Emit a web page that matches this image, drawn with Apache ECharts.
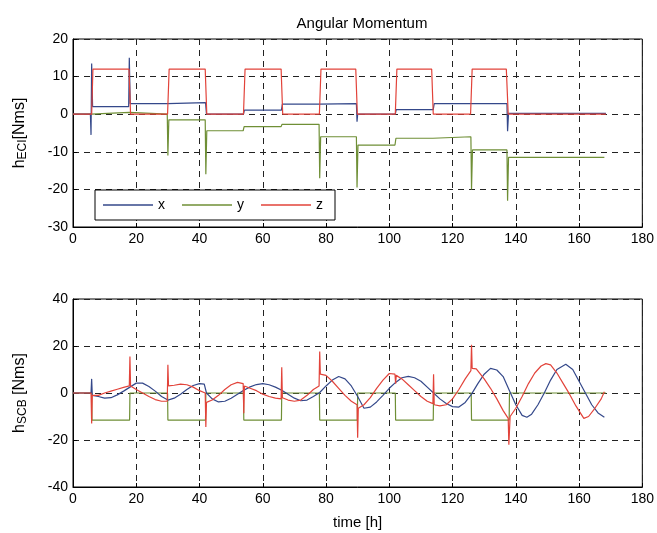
<!DOCTYPE html>
<html>
<head>
<meta charset="utf-8">
<script src="https://cdn.jsdelivr.net/npm/echarts@6/dist/echarts.min.js"></script>
<style>
  html, body { margin: 0; padding: 0; background: #fff; }
  #chart { width: 657px; height: 533px; }
</style>
</head>
<body>
<div id="chart"></div>
<script>
// time ticks
var xTicks = [0, 20, 40, 60, 80, 100, 120, 140, 160, 180];

// h_ECI, x component
var eciXT = [0, 5.5, 5.7, 5.9, 6.2, 17.6, 17.8, 18.1, 29.9, 30.2, 41.9, 42.2, 53.9, 54.2, 65.9, 66.2, 77.9, 78.2, 89.6, 89.8, 90.0, 101.9, 102.2, 113.9, 114.2, 137.2, 137.4, 137.7, 168.5];
var eciXV = [0, 0, -5.5, 13.5, 2, 2, 15, 2.8, 2.8, 3.1, 3.1, 0, 0, 1.1, 1.1, 2.7, 2.7, 2.8, 2.8, -2, 0, 0, 1.2, 1.2, 2.8, 2.8, -4.5, 0.2, 0.2];
// h_ECI, y component
var eciYT = [0, 5.8, 6.1, 17.8, 18.1, 29.8, 30.0, 30.3, 41.8, 42.0, 42.3, 53.8, 54.1, 65.8, 66.1, 77.8, 78.0, 78.3, 89.6, 89.8, 90.1, 101.8, 102.1, 113.8, 114.1, 125.8, 126.0, 126.3, 137.2, 137.4, 137.7, 168];
var eciYV = [0, 0, 0.5, 0.5, 0, 0, -11, -1.5, -1.5, -16, -4.4, -4.4, -3.3, -3.3, -2.7, -2.7, -17, -6, -6, -19.5, -8.2, -8.2, -6.4, -6.4, -6, -6, -20, -9.5, -9.5, -23, -11.5, -11.5];
// h_ECI, z component
var eciZT = [0, 5.9, 6.3, 17.7, 18.2, 29.9, 30.4, 41.8, 42.3, 53.9, 54.4, 65.8, 66.3, 77.9, 78.4, 89.4, 89.9, 101.9, 102.4, 113.4, 113.9, 125.7, 126.2, 137.0, 137.6, 168.5];
var eciZV = [0, 0, 12, 12, 0, 0, 12, 12, 0, 0, 12, 12, 0, 0, 12, 12, 0, 0, 12, 12, 0, 0, 12, 12, 0, 0];

// h_SCB, x component
var scbXT = [0, 5.7, 5.9, 6.1, 8, 10, 12, 14, 16, 18, 20, 22, 24, 26, 28, 30, 32, 34, 36, 38, 40, 41.5, 42.2, 44, 46, 48, 50, 52, 54, 56, 58, 60, 62, 64, 66, 68, 70, 72, 74, 76, 78, 80, 82, 84, 86, 88, 90, 92, 94, 96, 98, 100, 102, 104, 106, 108, 110, 112, 114, 116, 118, 120, 122, 124, 126, 128, 130, 132, 134, 136, 138, 140, 142, 143.5, 145, 147, 149, 151, 153, 155.8, 158, 160, 162, 164, 166, 168];
var scbXV = [0, 0, 6, -1, -1.5, -2.2, -2, -0.8, 0.8, 2.5, 4.2, 4.2, 2.8, 0.8, -1.5, -3, -2.2, -0.5, 1.5, 3.2, 4, 3.8, 0, -2.5, -3.8, -3.5, -2.2, -0.5, 1.2, 2.6, 3.6, 4, 3.5, 2.5, 1.2, -0.5, -2.2, -3.3, -3, -1.5, 0.2, 3, 5.5, 7, 6, 3, -1.5, -6.5, -6, -3.8, -1, 2, 4.5, 6.5, 7.1, 6.5, 5, 2.5, 0, -2.5, -4.5, -5.8, -6, -4, -0.5, 4, 8, 10.5, 9.8, 7, 1, -5, -9.5, -10.3, -9, -5, 0, 5.5, 10, 12.2, 10, 5, 0, -5, -8.5, -10.3];
// h_SCB, y component
var scbYT = [0, 5.9, 6.0, 17.9, 18.0, 29.9, 30.0, 41.9, 42.0, 53.9, 54.0, 65.9, 66.0, 77.9, 78.0, 89.9, 90.0, 101.9, 102.0, 113.9, 114.0, 125.9, 126.0, 137.9, 138.0, 168.5];
var scbYV = [0, 0, -11.5, -11.5, 0, 0, -11.5, -11.5, 0, 0, -11.5, -11.5, 0, 0, -11.5, -11.5, 0, 0, -11.5, -11.5, 0, 0, -11.5, -11.5, 0, 0];
// h_SCB, z component
var scbZT = [0, 5.7, 5.9, 6.1, 8, 10, 12, 14, 16, 17.8, 18, 18.2, 20, 22, 24, 26, 28, 29.8, 30, 30.2, 32, 34, 36, 38, 40, 41.8, 42, 42.2, 44, 46, 48, 50, 52, 53.8, 54, 54.2, 56, 58, 60, 62, 64, 65.8, 66, 66.2, 68, 70, 72, 74, 76, 77.8, 78, 78.2, 80, 82, 84, 86, 88, 89.8, 90, 90.2, 92, 94, 96, 98, 100, 101.8, 102, 102.2, 104, 106, 108, 110, 112, 113.8, 114, 114.2, 116, 118, 120, 122, 124, 125.8, 126, 126.2, 127.5, 130, 132, 134, 136, 137.6, 137.8, 138.2, 140, 142, 144, 146, 148, 149.5, 151, 153, 155, 157, 159, 161.5, 163, 165, 167, 168];
var scbZV = [0, 0, -13, -1, -1, 0, 0.8, 1.6, 2.4, 3, 15.5, 3, 1.5, 0, -1.5, -2.8, -3.5, -3.5, 12, 3, 3.3, 3.8, 3.5, 2.5, 1, 0, -14.5, -4, -3, -1, 1.5, 3.5, 4.5, 4, -8.6, 3, 2, 1, -0.5, -1.5, -2.2, -2.5, 11, -2, -3, -3.5, -3, -1, 1.5, 3, 17.7, 8, 7.5, 5, 2, -1, -3.5, -5, -19, -6.5, -5, -2, 2, 5.5, 8.3, 8, 4, 7.5, 6, 3.5, 1, -1.5, -3.5, -4.5, 8, -5, -5.5, -5, -2.5, 1.5, 6, 9.5, 20.5, 10.5, 10.3, 6, 2, -2.5, -7.5, -10.8, -22, -10, -6.5, -1.5, 4, 8.5, 11.5, 12.5, 12, 8.5, 4, -0.5, -5.5, -10.8, -10, -6.5, -2.5, 0.5];

var colX = '#34488a';
var colY = '#6f8f36';
var colZ = '#e2433a';
var font = 'Liberation Sans, Arial, sans-serif';

function pairs(t, v) {
  var out = [];
  for (var i = 0; i < t.length; i++) out.push([t[i], v[i]]);
  return out;
}

function line(name, t, v, color, idx) {
  return {
    name: name,
    type: 'line',
    xAxisIndex: idx,
    yAxisIndex: idx,
    data: pairs(t, v),
    symbol: 'none',
    lineStyle: { color: color, width: 1.2 },
    itemStyle: { color: color }
  };
}

var dash = { show: true, lineStyle: { color: '#222', type: [6, 5], width: 1 } };

function xAx(idx, withName) {
  var a = {
    type: 'value', gridIndex: idx, min: 0, max: 180, interval: 20,
    axisLine: { show: true, onZero: false, lineStyle: { color: '#000' } },
    axisTick: { inside: true, length: 4, lineStyle: { color: '#000' } },
    axisLabel: { color: '#000', fontSize: 14, fontFamily: font, margin: 5 },
    splitLine: dash
  };
  if (withName) {
    a.name = 'time [h]';
    a.nameLocation = 'middle';
    a.nameGap = 28;
    a.nameTextStyle = { color: '#000', fontSize: 15, fontFamily: font };
  }
  return a;
}

function yAx(idx, min, max, step, sub, tail) {
  return {
    type: 'value', gridIndex: idx, min: min, max: max, interval: step,
    name: '{m|h}{s|' + sub + '}{m|' + tail + '}',
    nameLocation: 'middle',
    nameRotate: 90,
    nameGap: 44,
    nameTextStyle: {
      rich: {
        m: { fontSize: 16, fontFamily: font, color: '#000' },
        s: { fontSize: 12, fontFamily: font, color: '#000', verticalAlign: 'bottom', padding: [7, 0, 0, 0] }
      }
    },
    axisLine: { show: true, lineStyle: { color: '#000' } },
    axisTick: { inside: true, length: 4, lineStyle: { color: '#000' } },
    axisLabel: { color: '#000', fontSize: 14, fontFamily: font, margin: 5 },
    splitLine: dash
  };
}

var chart = echarts.init(document.getElementById('chart'));
chart.setOption({
  animation: false,
  backgroundColor: '#fff',
  title: {
    text: 'Angular Momentum',
    left: 357,
    textAlign: 'center',
    top: 11,
    textStyle: { fontSize: 15, fontWeight: 'normal', fontFamily: font, color: '#000' }
  },
  legend: {
    data: ['x', 'y', 'z'],
    left: 95,
    top: 190,
    icon: 'rect',
    itemWidth: 50,
    itemHeight: 1.5,
    itemGap: 17,
    padding: [8, 12, 8, 8],
    backgroundColor: '#fff',
    borderColor: '#000',
    borderWidth: 1,
    textStyle: { color: '#000', fontSize: 14, fontFamily: font }
  },
  grid: [
    { left: 73, right: 14, top: 39, height: 188, show: true, borderColor: '#000', borderWidth: 1 },
    { left: 73, right: 14, top: 299, height: 188, show: true, borderColor: '#000', borderWidth: 1 }
  ],
  xAxis: [xAx(0, false), xAx(1, true)],
  yAxis: [yAx(0, -30, 20, 10, 'ECI', '[Nms]'), yAx(1, -40, 40, 20, 'SCB', ' [Nms]')],
  series: [
    line('y', eciYT, eciYV, colY, 0),
    line('x', eciXT, eciXV, colX, 0),
    line('z', eciZT, eciZV, colZ, 0),
    line('y', scbYT, scbYV, colY, 1),
    line('x', scbXT, scbXV, colX, 1),
    line('z', scbZT, scbZV, colZ, 1)
  ]
});
</script>
</body>
</html>
